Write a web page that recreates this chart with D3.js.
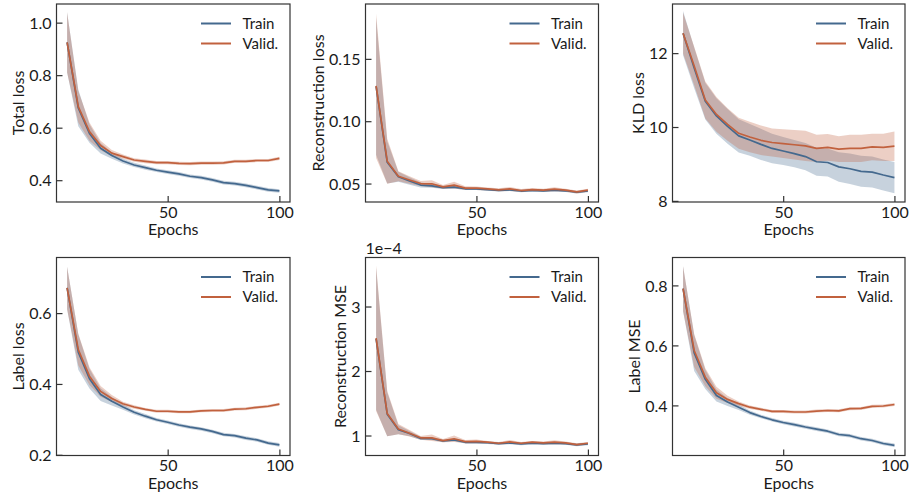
<!DOCTYPE html>
<html>
<head>
<meta charset="utf-8">
<script src="https://cdn.jsdelivr.net/npm/d3@7"></script>
<style>
  html, body { margin: 0; padding: 0; background: #fff; }
  svg { display: block; font-family: Lato, "Open Sans", sans-serif; }
</style>
</head>
<body>
<svg id="chart" width="913" height="500"></svg>
<script>
// Epochs at which the metrics were recorded
const epochs = [5, 10, 15, 20, 25, 30, 35, 40, 45, 50, 55, 60, 65, 70, 75, 80, 85, 90, 95, 100];

// Total loss
const totalTrain = [0.925, 0.675, 0.578, 0.522, 0.494, 0.473, 0.458, 0.448, 0.438, 0.431, 0.424, 0.415, 0.410, 0.401, 0.391, 0.387, 0.380, 0.372, 0.363, 0.359];
const totalValid = [0.925, 0.680, 0.585, 0.532, 0.503, 0.490, 0.477, 0.472, 0.467, 0.467, 0.464, 0.463, 0.465, 0.465, 0.466, 0.472, 0.472, 0.475, 0.475, 0.483];
const totalTrainStd = [0.115, 0.070, 0.035, 0.020, 0.012, 0.009, 0.008, 0.008, 0.007, 0.007, 0.007, 0.007, 0.007, 0.007, 0.007, 0.007, 0.007, 0.007, 0.007, 0.007];
const totalValidStd = [0.115, 0.060, 0.035, 0.018, 0.012, 0.008, 0.007, 0.007, 0.006, 0.006, 0.006, 0.006, 0.006, 0.006, 0.006, 0.006, 0.006, 0.006, 0.006, 0.006];

// Reconstruction loss
const reconTrain = [0.128, 0.067, 0.0555, 0.052, 0.0488, 0.0482, 0.0468, 0.0472, 0.0458, 0.0458, 0.0452, 0.0446, 0.0450, 0.0440, 0.0446, 0.0442, 0.0447, 0.0442, 0.0430, 0.0440];
const reconValid = [0.1284, 0.0679, 0.0559, 0.0529, 0.0500, 0.0498, 0.0473, 0.0487, 0.0463, 0.0463, 0.0457, 0.0450, 0.0457, 0.0444, 0.0452, 0.0447, 0.0455, 0.0447, 0.0433, 0.0447];
const reconTrainStd = [0.055, 0.017, 0.004, 0.003, 0.002, 0.0015, 0.0012, 0.0012, 0.001, 0.001, 0.001, 0.001, 0.001, 0.001, 0.001, 0.001, 0.001, 0.001, 0.001, 0.001];
const reconValidStd = [0.058, 0.018, 0.004, 0.003, 0.002, 0.0028, 0.0015, 0.0027, 0.0015, 0.0014, 0.0012, 0.0012, 0.0016, 0.0012, 0.0012, 0.0012, 0.0016, 0.0012, 0.0012, 0.0012];

// KLD loss
const kldTrain = [12.54, 11.60, 10.70, 10.30, 10.02, 9.76, 9.65, 9.53, 9.42, 9.35, 9.28, 9.20, 9.06, 9.04, 8.92, 8.87, 8.80, 8.78, 8.70, 8.63];
const kldValid = [12.54, 11.65, 10.73, 10.34, 10.07, 9.83, 9.73, 9.64, 9.58, 9.55, 9.52, 9.49, 9.42, 9.45, 9.40, 9.42, 9.42, 9.46, 9.45, 9.48];
const kldTrainStd = [0.60, 0.55, 0.50, 0.48, 0.47, 0.45, 0.43, 0.42, 0.40, 0.38, 0.37, 0.37, 0.38, 0.38, 0.40, 0.41, 0.42, 0.42, 0.42, 0.42];
const kldValidStd = [0.55, 0.52, 0.50, 0.47, 0.44, 0.42, 0.41, 0.40, 0.38, 0.39, 0.40, 0.41, 0.37, 0.36, 0.35, 0.37, 0.37, 0.36, 0.37, 0.40];

// Label loss
const labelTrain = [0.671, 0.490, 0.415, 0.370, 0.351, 0.335, 0.320, 0.309, 0.299, 0.292, 0.284, 0.278, 0.273, 0.266, 0.257, 0.254, 0.247, 0.242, 0.233, 0.228];
const labelValid = [0.671, 0.497, 0.422, 0.379, 0.359, 0.344, 0.335, 0.328, 0.323, 0.323, 0.321, 0.321, 0.324, 0.325, 0.325, 0.329, 0.330, 0.334, 0.337, 0.343];
const labelTrainStd = [0.060, 0.050, 0.028, 0.018, 0.012, 0.008, 0.006, 0.006, 0.005, 0.005, 0.005, 0.005, 0.005, 0.005, 0.005, 0.005, 0.005, 0.005, 0.005, 0.005];
const labelValidStd = [0.060, 0.045, 0.025, 0.015, 0.010, 0.006, 0.005, 0.004, 0.004, 0.004, 0.004, 0.004, 0.004, 0.004, 0.004, 0.004, 0.004, 0.004, 0.004, 0.004];

// Reconstruction MSE
const mseTrain = [2.50e-4, 1.33e-4, 1.09e-4, 1.03e-4, 0.955e-4, 0.950e-4, 0.915e-4, 0.930e-4, 0.895e-4, 0.895e-4, 0.888e-4, 0.875e-4, 0.885e-4, 0.870e-4, 0.882e-4, 0.875e-4, 0.880e-4, 0.875e-4, 0.855e-4, 0.870e-4];
const mseValid = [2.51e-4, 1.34e-4, 1.10e-4, 1.036e-4, 0.964e-4, 0.964e-4, 0.920e-4, 0.950e-4, 0.906e-4, 0.910e-4, 0.896e-4, 0.880e-4, 0.900e-4, 0.880e-4, 0.896e-4, 0.886e-4, 0.896e-4, 0.886e-4, 0.860e-4, 0.880e-4];
const mseTrainStd = [1.10e-4, 0.34e-4, 0.07e-4, 0.04e-4, 0.025e-4, 0.02e-4, 0.02e-4, 0.02e-4, 0.02e-4, 0.02e-4, 0.02e-4, 0.02e-4, 0.02e-4, 0.02e-4, 0.02e-4, 0.02e-4, 0.02e-4, 0.02e-4, 0.02e-4, 0.02e-4];
const mseValidStd = [1.13e-4, 0.35e-4, 0.08e-4, 0.05e-4, 0.03e-4, 0.05e-4, 0.025e-4, 0.05e-4, 0.025e-4, 0.03e-4, 0.02e-4, 0.02e-4, 0.03e-4, 0.02e-4, 0.02e-4, 0.02e-4, 0.03e-4, 0.02e-4, 0.02e-4, 0.02e-4];

// Label MSE
const lmseTrain = [0.789, 0.575, 0.487, 0.433, 0.411, 0.394, 0.376, 0.363, 0.352, 0.343, 0.336, 0.328, 0.321, 0.314, 0.303, 0.299, 0.289, 0.283, 0.273, 0.267];
const lmseValid = [0.789, 0.583, 0.494, 0.442, 0.420, 0.406, 0.394, 0.387, 0.380, 0.380, 0.378, 0.378, 0.381, 0.383, 0.382, 0.389, 0.390, 0.397, 0.398, 0.403];
const lmseTrainStd = [0.075, 0.060, 0.032, 0.020, 0.013, 0.009, 0.007, 0.006, 0.006, 0.006, 0.006, 0.006, 0.006, 0.006, 0.006, 0.006, 0.006, 0.006, 0.006, 0.006];
const lmseValidStd = [0.075, 0.055, 0.030, 0.020, 0.012, 0.007, 0.006, 0.005, 0.005, 0.005, 0.005, 0.005, 0.005, 0.005, 0.005, 0.005, 0.005, 0.005, 0.005, 0.005];

// Legend entries and tick values
const seriesNames = ["Train", "Valid."];
const xTicks = [50, 100];
const totalTicks = [0.4, 0.6, 0.8, 1.0];
const reconTicks = [0.05, 0.10, 0.15];
const kldTicks = [8, 10, 12];
const labelTicks = [0.2, 0.4, 0.6];
const mseTicks = [1e-4, 2e-4, 3e-4];
const lmseTicks = [0.4, 0.6, 0.8];

const colors = { train: "#44698e", valid: "#c1613e" };
const axisColor = "#333";
const textColor = "#1a1a1a";

const cols = [[56.5, 290], [365.5, 598.5], [672.5, 905]];
const rows = [[4, 202], [257.5, 455.5]];

const panels = [
  { label: "Total loss", train: totalTrain, valid: totalValid, tStd: totalTrainStd, vStd: totalValidStd,
    yDomain: [0.317, 1.071], ticks: totalTicks, fmt: d3.format(".1f"), col: 0, row: 0 },
  { label: "Reconstruction loss", train: reconTrain, valid: reconValid, tStd: reconTrainStd, vStd: reconValidStd,
    yDomain: [0.0352, 0.194], ticks: reconTicks, fmt: d3.format(".2f"), col: 1, row: 0 },
  { label: "KLD loss", train: kldTrain, valid: kldValid, tStd: kldTrainStd, vStd: kldValidStd,
    yDomain: [7.97, 13.33], ticks: kldTicks, fmt: d3.format("d"), col: 2, row: 0 },
  { label: "Label loss", train: labelTrain, valid: labelValid, tStd: labelTrainStd, vStd: labelValidStd,
    yDomain: [0.198, 0.757], ticks: labelTicks, fmt: d3.format(".1f"), col: 0, row: 1 },
  { label: "Reconstruction MSE", train: mseTrain, valid: mseValid, tStd: mseTrainStd, vStd: mseValidStd,
    yDomain: [0.69e-4, 3.76e-4], ticks: mseTicks, fmt: d => d3.format("d")(Math.round(d * 1e4)), col: 1, row: 1,
    offsetText: "1e\u22124" },
  { label: "Label MSE", train: lmseTrain, valid: lmseValid, tStd: lmseTrainStd, vStd: lmseValidStd,
    yDomain: [0.233, 0.893], ticks: lmseTicks, fmt: d3.format(".1f"), col: 2, row: 1 }
];

const svg = d3.select("#chart");
const tickLen = 6;

panels.forEach(p => {
  const [x0, x1] = cols[p.col];
  const [y0, y1] = rows[p.row];
  const x = d3.scaleLinear().domain([0.25, 104.75]).range([x0, x1]);
  const y = d3.scaleLinear().domain(p.yDomain).range([y1, y0]);
  const g = svg.append("g");

  const clipId = `clip-${p.col}-${p.row}`;
  g.append("clipPath").attr("id", clipId)
    .append("rect").attr("x", x0).attr("y", y0).attr("width", x1 - x0).attr("height", y1 - y0);

  const plot = g.append("g").attr("clip-path", `url(#${clipId})`);
  const area = (vals, std) => d3.area()
    .x((d, i) => x(epochs[i]))
    .y0((d, i) => y(vals[i] - std[i]))
    .y1((d, i) => y(vals[i] + std[i]))(vals);
  const line = d3.line().x((d, i) => x(epochs[i])).y(d => y(d));

  plot.append("path").attr("d", area(p.train, p.tStd)).attr("fill", colors.train).attr("fill-opacity", 0.3);
  plot.append("path").attr("d", area(p.valid, p.vStd)).attr("fill", colors.valid).attr("fill-opacity", 0.3);
  plot.append("path").attr("d", line(p.train)).attr("fill", "none").attr("stroke", colors.train)
    .attr("stroke-width", 1.7).attr("stroke-linejoin", "round");
  plot.append("path").attr("d", line(p.valid)).attr("fill", "none").attr("stroke", colors.valid)
    .attr("stroke-width", 1.7).attr("stroke-linejoin", "round");

  // y axis: inward ticks, labels on the left
  const yAxis = g.append("g").attr("transform", `translate(${x0},0)`)
    .call(d3.axisRight(y).tickValues(p.ticks).tickSize(tickLen).tickFormat(p.fmt));
  yAxis.select(".domain").remove();
  yAxis.selectAll(".tick line").attr("stroke", axisColor).attr("stroke-width", 1.2);
  yAxis.selectAll(".tick text").attr("x", -5).attr("text-anchor", "end").attr("dy", "0.36em")
    .attr("font-size", 16).attr("fill", textColor).attr("font-family", "Lato, sans-serif");

  // x axis: inward ticks, labels below
  const xAxis = g.append("g").attr("transform", `translate(0,${y1})`)
    .call(d3.axisTop(x).tickValues(xTicks).tickSize(tickLen).tickFormat(d3.format("d")));
  xAxis.select(".domain").remove();
  xAxis.selectAll(".tick line").attr("stroke", axisColor).attr("stroke-width", 1.2);
  xAxis.selectAll(".tick text").attr("y", 15.5).attr("dy", null).attr("text-anchor", "middle")
    .attr("font-size", 16).attr("fill", textColor).attr("font-family", "Lato, sans-serif");

  // frame
  g.append("rect").attr("x", x0).attr("y", y0).attr("width", x1 - x0).attr("height", y1 - y0)
    .attr("fill", "none").attr("stroke", axisColor).attr("stroke-width", 1.2);

  // axis titles
  g.append("text").attr("x", (x0 + x1) / 2).attr("y", y1 + 33).attr("text-anchor", "middle")
    .attr("font-size", 16).attr("fill", textColor).text("Epochs");
  const tb = yAxis.node().getBBox();
  const labX = x0 + tb.x - 5;
  g.append("text").attr("transform", `translate(${labX},${(y0 + y1) / 2}) rotate(-90)`)
    .attr("text-anchor", "middle").attr("font-size", 16).attr("fill", textColor).text(p.label);

  if (p.offsetText) {
    g.append("text").attr("x", x0).attr("y", y0 - 3.5).attr("font-size", 16).attr("fill", textColor)
      .text(p.offsetText);
  }

  // legend
  const legend = g.append("g");
  [colors.train, colors.valid].forEach((c, i) => {
    const ly = y0 + 19.5 + i * 20;
    legend.append("line").attr("x1", x1 - 89).attr("x2", x1 - 59).attr("y1", ly).attr("y2", ly)
      .attr("stroke", c).attr("stroke-width", 2);
    legend.append("text").attr("x", x1 - 47.5).attr("y", ly).attr("dy", "0.36em")
      .attr("font-size", 15).attr("fill", textColor).text(seriesNames[i]);
  });
});
</script>
</body>
</html>
